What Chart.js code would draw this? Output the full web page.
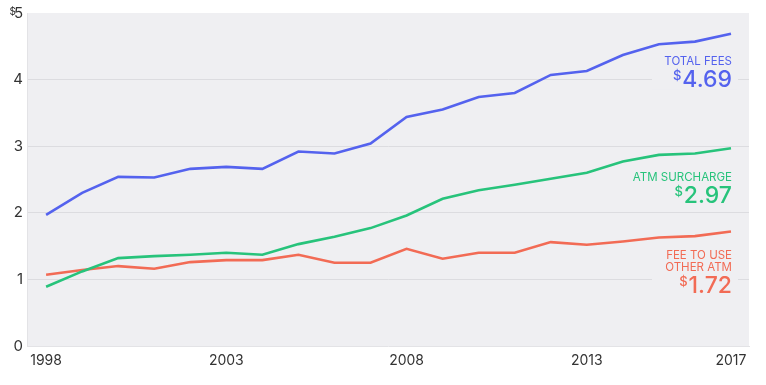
<!DOCTYPE html>
<html>
<head>
<meta charset="utf-8">
<script src="https://cdn.jsdelivr.net/npm/chart.js@4/dist/chart.umd.min.js"></script>
<style>
  html, body { margin: 0; padding: 0; background: #fff; }
  #wrap { width: 766px; height: 385px; }
</style>
</head>
<body>
<div id="wrap"><canvas id="grafico"></canvas></div>
<script>
const years = [1998, 1999, 2000, 2001, 2002, 2003, 2004, 2005, 2006, 2007,
  2008, 2009, 2010, 2011, 2012, 2013, 2014, 2015, 2016, 2017];
const totalFees = [1.97, 2.30, 2.54, 2.53, 2.66, 2.69, 2.66, 2.92, 2.89, 3.04,
  3.44, 3.55, 3.74, 3.80, 4.07, 4.13, 4.37, 4.53, 4.57, 4.69];
const atmSurcharge = [0.89, 1.12, 1.32, 1.35, 1.37, 1.40, 1.37, 1.53, 1.64, 1.77,
  1.96, 2.21, 2.34, 2.42, 2.51, 2.60, 2.77, 2.87, 2.89, 2.97];
const otherAtmFee = [1.07, 1.14, 1.20, 1.16, 1.26, 1.29, 1.29, 1.37, 1.25, 1.25,
  1.46, 1.31, 1.40, 1.40, 1.56, 1.52, 1.57, 1.63, 1.65, 1.72];
const xTicks = [1998, 2003, 2008, 2013, 2017];
const yTicks = [0, 1, 2, 3, 4, 5];
const seriesLabels = [['TOTAL FEES'], ['ATM SURCHARGE'], ['FEE TO USE', 'OTHER ATM']];
const finalValues = ['4.69', '2.97', '1.72'];

const colores = ['#5462ee', '#27c37b', '#f26b55'];
const fuente = 'Inter, "Noto Sans", sans-serif';

function serie(valores, color) {
  return {
    data: years.map((y, i) => ({ x: y, y: valores[i] })),
    borderColor: color,
    borderWidth: 2.6,
    pointRadius: 0,
    tension: 0,
    fill: false
  };
}

// fondo gris del area del grafico
const fondoPlugin = {
  id: 'fondo',
  beforeDraw(chart) {
    const { ctx, chartArea: a } = chart;
    ctx.save();
    ctx.fillStyle = '#efeff2';
    ctx.fillRect(a.left, a.top, a.right - a.left, a.bottom - a.top);
    ctx.restore();
  }
};

// etiquetas a la derecha y el "$" del eje
const etiquetasPlugin = {
  id: 'etiquetas',
  afterDatasetsDraw(chart) {
    const { ctx, scales } = chart;
    const xr = scales.x.getPixelForValue(2017) + 1;
    const ultimos = [totalFees, atmSurcharge, otherAtmFee].map(s => s[s.length - 1]);
    const desplaz = [31, 33, 28];
    ctx.save();
    ultimos.forEach((v, i) => {
      const yBase = scales.y.getPixelForValue(v) + desplaz[i];
      const lineas = seriesLabels[i];
      const altoTotal = lineas.length * 12 + 24;
      // caja para tapar la grilla
      ctx.fillStyle = '#efeff2';
      ctx.fillRect(xr - 80, yBase - 11, 86, altoTotal);
      ctx.fillStyle = colores[i];
      ctx.textAlign = 'right';
      ctx.textBaseline = 'alphabetic';
      ctx.font = '11.5px ' + fuente;
      lineas.forEach((t, j) => ctx.fillText(t, xr, yBase + j * 12));
      const yNum = yBase + (lineas.length - 1) * 12 + 22;
      ctx.font = '500 23px ' + fuente;
      ctx.fillText(finalValues[i], xr, yNum);
      const w = ctx.measureText(finalValues[i]).width;
      ctx.font = '500 13px ' + fuente;
      ctx.fillText('$', xr - w - 1, yNum - 7);
    });
    // "$" pequeño junto al 5 del eje
    const y5 = scales.y.getPixelForValue(5);
    ctx.fillStyle = '#333';
    ctx.font = '10px ' + fuente;
    ctx.textAlign = 'right';
    ctx.fillText('$', 16, y5 + 2);
    ctx.restore();
  }
};

const config = {
  type: 'line',
  data: {
    datasets: [
      serie(totalFees, colores[0]),
      serie(atmSurcharge, colores[1]),
      serie(otherAtmFee, colores[2])
    ]
  },
  options: {
    responsive: true,
    maintainAspectRatio: false,
    animation: false,
    layout: { padding: { top: 13, right: 17, left: 0, bottom: 0 } },
    plugins: { legend: { display: false }, tooltip: { enabled: false } },
    scales: {
      x: {
        type: 'linear',
        min: 1997.47,
        max: 2017.5,
        afterBuildTicks: axis => { axis.ticks = xTicks.map(v => ({ value: v })); },
        afterFit: axis => { axis.height = 39; },
        grid: { display: false, drawTicks: false },
        border: { display: true, color: '#e3e3e6', width: 1 },
        ticks: {
          color: '#333',
          font: { family: fuente, size: 14 },
          padding: 6,
          maxRotation: 0,
          autoSkip: false,
          callback: v => String(v)
        }
      },
      y: {
        min: 0,
        max: 5,
        afterBuildTicks: axis => { axis.ticks = yTicks.map(v => ({ value: v })); },
        afterFit: axis => { axis.width = 27; },
        grid: {
          color: ctx => (ctx.tick.value === 0 || ctx.tick.value === 5) ? 'rgba(0,0,0,0)' : '#dcdce0',
          lineWidth: 1,
          drawTicks: false
        },
        border: { display: true, color: '#e3e3e6', width: 1 },
        ticks: {
          color: '#333',
          font: { family: fuente, size: 15 },
          padding: 4,
          callback: v => String(v)
        }
      }
    }
  },
  plugins: [fondoPlugin, etiquetasPlugin]
};

new Chart(document.getElementById('grafico'), config);
</script>
</body>
</html>
